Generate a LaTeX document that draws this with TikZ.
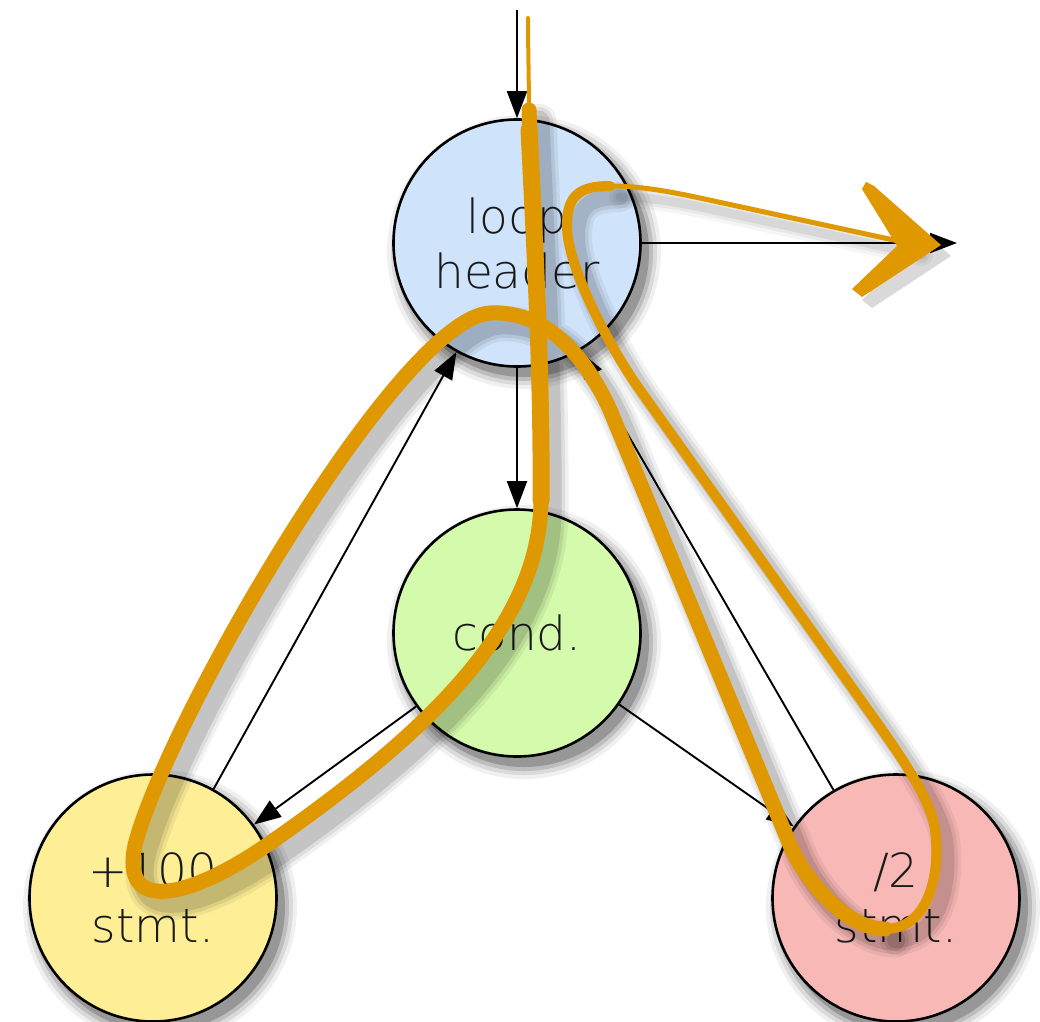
\documentclass[tikz,border=0pt]{standalone}
\usepackage{fontspec}
\newfontfamily\lightfont{DejaVu Sans ExtraLight}
\usetikzlibrary{arrows.meta}
\definecolor{hdrblue}{HTML}{CFE3FA}
\definecolor{condgreen}{HTML}{D4FAAB}
\definecolor{addyellow}{HTML}{FEEE96}
\definecolor{divpink}{HTML}{F8B8B6}
\definecolor{pathorange}{HTML}{E09800}
\definecolor{inktext}{HTML}{1A1A1A}
\newcommand\traceTop[1]{\draw[#1] (528,18) .. controls (528,50) and (529,80) .. (529,115);}
\newcommand\traceMain[1]{\draw[#1] (529,110) .. controls (535,250) and (542,380) .. (541,500)
  .. controls (540,620) and (440,725) .. (267,845)
  .. controls (190,898) and (120,915) .. (135,845)
  .. controls (167,720) and (400,318) .. (490,313)
  .. controls (545,310) and (585,355) .. (610,410)
  -- (790,845)
  .. controls (803,877) and (845,929) .. (885,929);}
\newcommand\traceBack[1]{\draw[#1] (885,929) .. controls (928,929) and (941,875) .. (935,830)
  .. controls (931,797) and (895,748) .. (863,703)
  -- (640,390)
  .. controls (611,350) and (566,265) .. (567,225)
  .. controls (567,195) and (580,186) .. (610,186);}
\newcommand\traceOut[1]{\draw[#1] (610,186) .. controls (650,186) and (690,196) .. (723,203) -- (912,244);}
\newcommand\traceHead[1]{\fill[#1] (866,182) -- (874,186) -- (941,245) -- (862,297) -- (852,289) -- (897,246) -- (862,189) -- cycle;}
\begin{document}
\begin{tikzpicture}[x=1pt,y=-1pt,
  state/.style={circle,draw=black,line width=2.6pt,minimum size=247pt,inner sep=0pt,align=center,font=\lightfont\fontsize{47}{55}\selectfont,text=inktext},
  flow/.style={line width=1.9pt,-{Triangle[length=27pt,width=20pt]}},
  trace/.style={draw=pathorange,line cap=round,line join=round},
  shade/.style={draw=black,line cap=round,line join=round},
]
\useasboundingbox (0,0) rectangle (1040,1021);
\fill[white] (0,0) rectangle (1040,1021);

% circle shadows
\foreach \cx/\cy in {517/243, 517/633, 153/898, 896/898}{
  \foreach \r/\o in {137/0.06,133/0.09,129/0.13,125/0.2}{
    \fill[black,opacity=\o] (\cx+7,\cy+9) circle[radius=\r pt];
  }
}

% states
\node[state,fill=hdrblue] (hdr) at (517,243) {loop\\header};
\node[state,fill=condgreen] (cond) at (517,633) {cond.};
\node[state,fill=addyellow] (add) at (153,898) {+100\\stmt.};
\node[state,fill=divpink] (half) at (896,898) {/2\\stmt.};
\coordinate (entry) at (517,10);
\coordinate (exit) at (957,243);

% control flow
\draw[flow] (entry) -- (hdr);
\draw[flow] (hdr) -- (exit);
\draw[flow] (hdr) -- (cond);
\draw[flow] (cond) -- (add);
\draw[flow] (cond) -- (half);
\draw[flow] (add) -- (hdr);
\draw[flow] (half) -- (hdr);

% shadow of the trace
\begin{scope}[shift={(10,11)}]
  \foreach \w/\o in {35/0.06,28/0.08,21/0.11}{
    \traceMain{shade,line width=\w pt,opacity=\o}
  }
  \foreach \w/\o in {30/0.05,23/0.07,16/0.1}{
    \traceBack{shade,line width=\w pt,opacity=\o}
  }
  \foreach \w/\o in {22/0.04,15/0.05,9/0.07}{
    \traceOut{shade,line width=\w pt,opacity=\o}
  }
  \traceHead{black,opacity=0.15}
\end{scope}

% the trace
\traceTop{trace,line width=4pt}
\traceMain{trace,line width=15pt}
\draw[trace,line width=17pt] (529,130) .. controls (535,250) and (542,380) .. (541,500);
\traceBack{trace,line width=10pt}
\traceOut{trace,line width=5pt}
\traceHead{pathorange}
\end{tikzpicture}
\end{document}
